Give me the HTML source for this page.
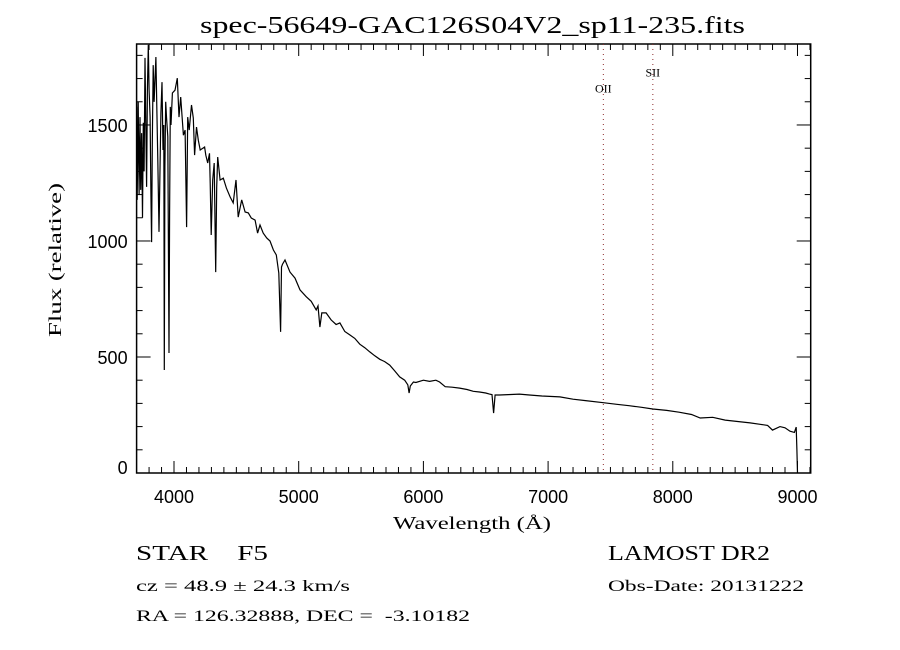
<!DOCTYPE html>
<html><head><meta charset="utf-8"><style>
html,body{margin:0;padding:0;background:#fff;}
svg{display:block;}
text{fill:#000;}
.serif{font-family:"Liberation Serif","DejaVu Serif",serif;}
.sans{font-family:"Liberation Sans","DejaVu Sans",sans-serif;}
</style></head>
<body>
<svg id="chart" width="900" height="650" xmlns="http://www.w3.org/2000/svg">
<rect x="0" y="0" width="900" height="650" fill="#fff"/>
<text class="serif" x="200" y="33" font-size="24" textLength="545" lengthAdjust="spacingAndGlyphs">spec-56649-GAC126S04V2_sp11-235.fits</text>
<text class="serif" x="393" y="529" font-size="18" textLength="158" lengthAdjust="spacingAndGlyphs">Wavelength (Å)</text>
<text class="serif" x="61" y="337" font-size="18" textLength="154" lengthAdjust="spacingAndGlyphs" transform="rotate(-90 61 337)">Flux (relative)</text>
<text class="serif" x="136" y="560" font-size="21" textLength="132" lengthAdjust="spacingAndGlyphs" xml:space="preserve">STAR    F5</text>
<text class="serif" x="136" y="591" font-size="16" textLength="214" lengthAdjust="spacingAndGlyphs">cz = 48.9 ± 24.3 km/s</text>
<text class="serif" x="136" y="621" font-size="16" textLength="334" lengthAdjust="spacingAndGlyphs" xml:space="preserve">RA = 126.32888, DEC =  -3.10182</text>
<text class="serif" x="608" y="560" font-size="21" textLength="162" lengthAdjust="spacingAndGlyphs">LAMOST DR2</text>
<text class="serif" x="608" y="591" font-size="16" textLength="196" lengthAdjust="spacingAndGlyphs">Obs-Date: 20131222</text>
<g id="axes"></g>
<g id="plot"></g>
</svg>
<script>
const xTicks = [4000, 5000, 6000, 7000, 8000, 9000];
const yTicks = [0, 500, 1000, 1500];
const lineNames = ["OII", "SII"];
const lineWaves = [7443, 7840];
const lineLabelFlux = [1640, 1710];
const wave = [3700,3705,3713,3720,3727,3733,3740,3747,3754,3760,3767,3774,3780,3787,3794,3800,3808,3815,3820,3826,3833,3840,3855,3862,3870,3877,3880,3895,3904,3912,3918,3922,3927,3933,3940,3950,3960,3965,3970,3976,3987,4008,4026,4040,4054,4075,4089,4101,4110,4122,4140,4155,4165,4180,4195,4210,4245,4255,4270,4285,4290,4298,4310,4322,4334,4342,4350,4370,4395,4420,4450,4475,4497,4515,4543,4570,4596,4620,4650,4670,4690,4715,4743,4770,4797,4820,4840,4855,4862,4870,4890,4930,4970,5010,5060,5100,5140,5155,5170,5185,5220,5260,5300,5330,5370,5410,5450,5490,5530,5570,5610,5650,5690,5730,5770,5810,5850,5875,5885,5895,5920,5940,6000,6050,6100,6130,6175,6230,6290,6350,6400,6450,6500,6530,6550,6563,6575,6610,6680,6770,6850,6950,7095,7200,7300,7443,7550,7650,7750,7840,7950,8050,8150,8220,8320,8420,8520,8620,8700,8760,8800,8860,8900,8940,8975,8990,8995,9000];
const flux = [1578,1177,1600,1200,1534,1220,1465,1100,1510,1300,1789,1508,1233,1650,1845,1650,1534,1207,995,1420,1758,1600,1793,1578,1350,1121,1039,1550,1685,1392,1500,444,1319,1600,1534,1450,517,1121,1578,1500,1638,1650,1702,1534,1620,1456,1478,1060,1534,1478,1586,1530,1370,1491,1435,1392,1405,1370,1336,1378,1250,1026,1263,1336,866,1233,1362,1263,1271,1228,1190,1164,1263,1103,1177,1125,1121,1099,1090,1034,1069,1034,1013,1000,961,940,862,608,888,900,918,866,840,789,760,740,703,720,629,690,690,660,640,647,610,595,580,555,540,522,505,490,480,465,440,414,400,380,345,375,392,390,400,395,400,392,372,370,366,360,352,349,345,340,338,258,336,336,338,340,336,332,328,318,312,303,296,290,283,276,270,262,252,237,240,228,222,216,210,205,185,200,195,180,175,198,100,0];

const X0=136.6, X1=810.7, Y0=473, Y1=44;
const xMin=3700, xMax=9106, yMin=0, yMax=1849;
const sx = v => X0 + (v-xMin)/(xMax-xMin)*(X1-X0);
const sy = v => Y0 - (v-yMin)/(yMax-yMin)*(Y0-Y1);
const NS="http://www.w3.org/2000/svg";
function mk(tag, attrs, parent){const e=document.createElementNS(NS,tag);for(const k in attrs)e.setAttribute(k,attrs[k]);parent.appendChild(e);return e;}
const axes=document.getElementById('axes');
const plot=document.getElementById('plot');

const frame=mk('rect',{x:X0,y:Y1,width:X1-X0,height:Y0-Y1,fill:'none',stroke:'#000','stroke-width':1.5},axes);



for(let w=3800; w<=9100; w+=100){
  const major = w%1000===0;
  const L = major?12:6;
  const x=sx(w);
  const t1=mk('line',{x1:x,y1:Y0,x2:x,y2:Y0-L,stroke:'#000','stroke-width':1},axes);
  
  
  const t2=mk('line',{x1:x,y1:Y1,x2:x,y2:Y1+L,stroke:'#000','stroke-width':1},axes);
  
  
}
xTicks.forEach(v=>{
  const t=mk('text',{x:sx(v),y:Y0+30,'font-size':18,'text-anchor':'middle','class':'sans'},axes);
  t.textContent=v;
  
  
});
for(let f=100; f<=1800; f+=100){
  const major=f%500===0;
  const L=major?14:6;
  const y=sy(f);
  const t1=mk('line',{x1:X0,y1:y,x2:X0+L,y2:y,stroke:'#000','stroke-width':1},axes);
  
  
  const t2=mk('line',{x1:X1,y1:y,x2:X1-L,y2:y,stroke:'#000','stroke-width':1},axes);
  
  
}
yTicks.forEach(v=>{
  const t=mk('text',{x:X0-9,y:sy(v)+(v===0?1:7),'font-size':18,'text-anchor':'end','class':'sans'},axes);
  t.textContent=v;
  
  
});

lineNames.forEach((n,i)=>{
  const x=sx(lineWaves[i]);
  const l=mk('line',{x1:x,y1:Y1,x2:x,y2:Y0,stroke:'#8b2a2a','stroke-width':1,'stroke-dasharray':'1,4'},plot);
  
  
  const t=mk('text',{x:x,y:sy(lineLabelFlux[i]),'font-size':12,'text-anchor':'middle','class':'serif'},plot);
  t.textContent=n;
  
  
});

const pts=wave.map((w,i)=>sx(w).toFixed(1)+','+sy(flux[i]).toFixed(1)).join(' ');
const pl=mk('polyline',{points:pts,fill:'none',stroke:'#000','stroke-width':1.2,'stroke-linejoin':'miter'},plot);


</script>
</body></html>
